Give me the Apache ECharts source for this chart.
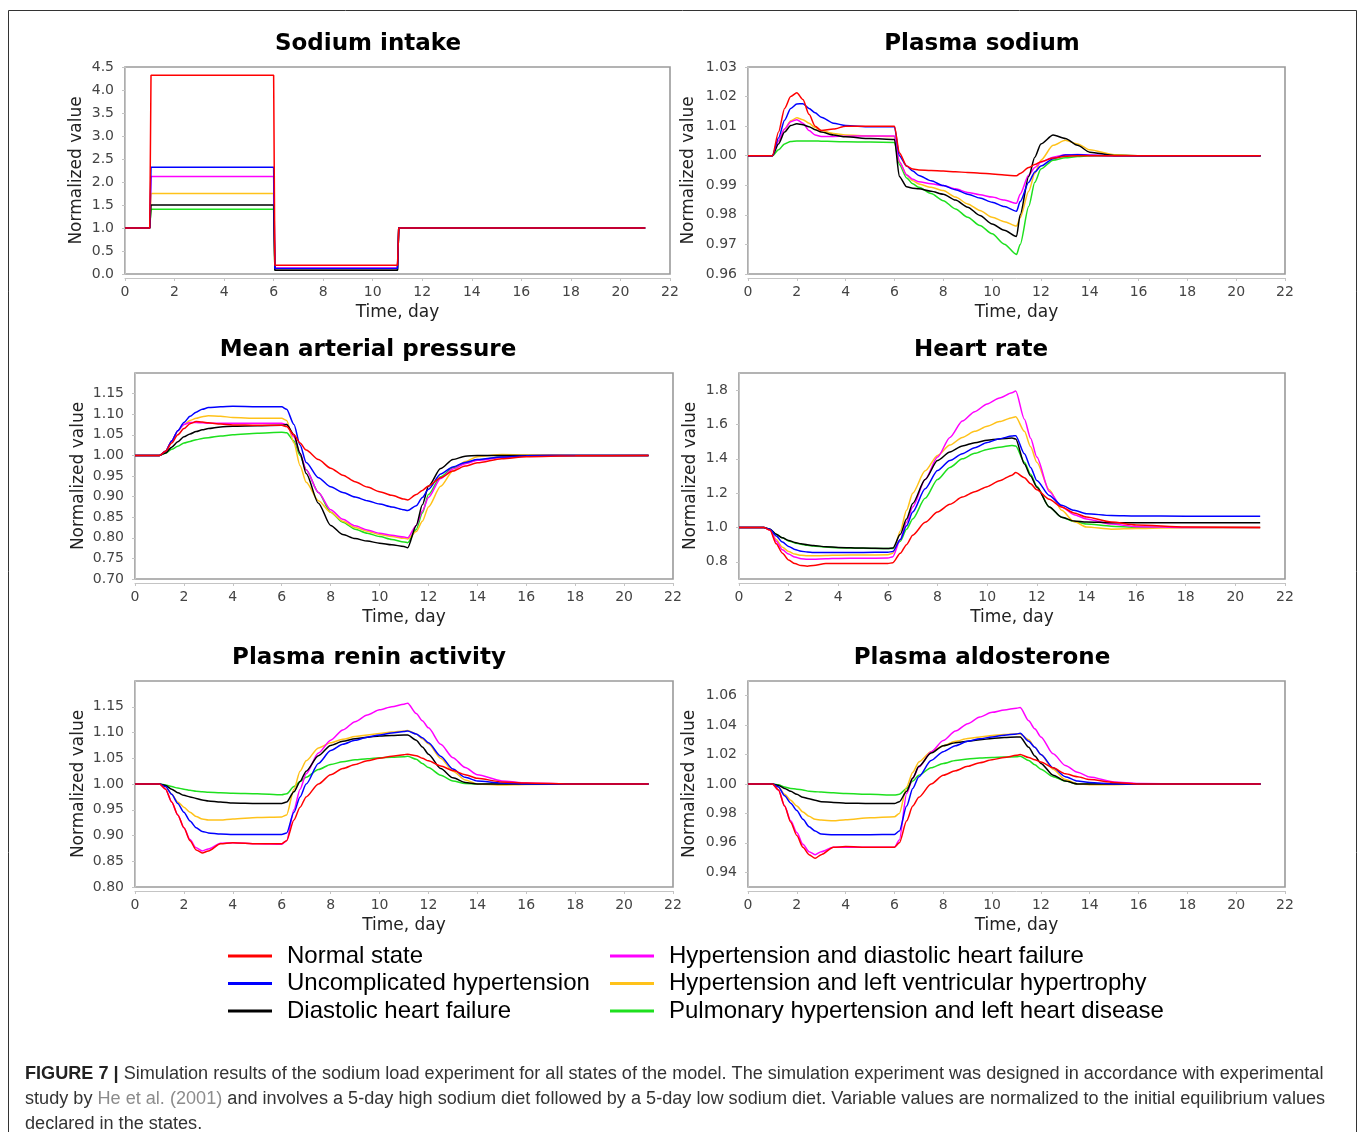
<!DOCTYPE html>
<html><head><meta charset="utf-8">
<script src="https://cdn.jsdelivr.net/npm/echarts@6.0.0/dist/echarts.min.js"></script>
<style>html,body{margin:0;padding:0;background:#fff}#c{width:1358px;height:1132px}</style>
</head><body><div id="c"></div>
<script>
// ---------- DATA ----------
const SERIES_NAMES = ['Normal state','Uncomplicated hypertension','Diastolic heart failure',
  'Hypertension and diastolic heart failure','Hypertension and left ventricular hypertrophy',
  'Pulmonary hypertension and left heart disease'];
const PANEL_TITLES = ['Sodium intake','Plasma sodium','Mean arterial pressure','Heart rate','Plasma renin activity','Plasma aldosterone'];
const X_TICKS = [0,2,4,6,8,10,12,14,16,18,20,22];
const Y_TICKS_SI = [0,0.5,1,1.5,2,2.5,3,3.5,4,4.5];
const Y_TICKS_PS = [0.96,0.97,0.98,0.99,1.00,1.01,1.02,1.03];
const Y_TICKS_MAP = [0.70,0.75,0.80,0.85,0.90,0.95,1.00,1.05,1.10,1.15];
const Y_TICKS_HR = [0.8,1.0,1.2,1.4,1.6,1.8];
const Y_TICKS_RA = [0.80,0.85,0.90,0.95,1.00,1.05,1.10,1.15];
const Y_TICKS_AL = [0.94,0.96,0.98,1.00,1.02,1.04,1.06];

// time, day
const T_STEP = [0,1,1.05,6,6.05,11,11.05,21];
const T = [0,1,1.25,1.5,1.75,2,2.25,2.5,2.75,3,3.5,4,5,6,6.2,6.5,6.75,7,7.5,8,8.5,9,9.5,10,10.5,11,11.15,11.5,11.75,12,12.5,13,13.5,14,15,16,18,21];

// Sodium intake
const SI_RED  = [1,1,4.32,4.32,0.19,0.19,1,1];
const SI_BLUE = [1,1,2.32,2.32,0.12,0.12,1,1];
const SI_BLK  = [1,1,1.50,1.50,0.08,0.08,1,1];
const SI_MAG  = [1,1,2.12,2.12,0.13,0.13,1,1];
const SI_YEL  = [1,1,1.75,1.75,0.10,0.10,1,1];
const SI_GRN  = [1,1,1.41,1.41,0.09,0.09,1,1];

// Plasma sodium
const PS_RED  = [1,1,1.008,1.016,1.020,1.0213,1.019,1.014,1.010,1.0085,1.009,1.0100,1.0100,1.0100,1.001,0.9965,0.9955,0.9952,0.9950,0.9948,0.9946,0.9943,0.9941,0.9938,0.9935,0.9932,0.9940,0.9960,0.9970,0.9980,0.9992,0.9998,1,1,1,1,1,1];
const PS_BLUE = [1,1,1.006,1.012,1.016,1.0175,1.0176,1.016,1.0145,1.013,1.011,1.0102,1.0098,1.0098,1.000,0.9965,0.9948,0.9933,0.9915,0.9899,0.9885,0.9870,0.9857,0.9843,0.9828,0.9812,0.9845,0.9910,0.9945,0.9965,0.9990,1.0002,1.0003,1.0001,1,1,1,1];
const PS_BLK  = [1,1,1.004,1.008,1.0102,1.0108,1.0105,1.0098,1.0088,1.0080,1.0070,1.0064,1.0058,1.0055,0.9930,0.9895,0.9890,0.9888,0.9880,0.9870,0.9850,0.9826,0.9798,0.9769,0.9748,0.9727,0.9800,0.9930,0.9995,1.0040,1.0070,1.0058,1.0035,1.0012,1.0001,1,1,1];
const PS_MAG  = [1,1,1.005,1.009,1.0115,1.0122,1.011,1.0085,1.0070,1.0065,1.0065,1.0066,1.0067,1.0067,0.998,0.9935,0.9920,0.9912,0.9905,0.9899,0.9888,0.9876,0.9868,0.9860,0.9850,0.9839,0.9870,0.9935,0.9960,0.9978,0.9995,1.0003,1.0004,1.0002,1,1,1,1];
const PS_YEL  = [1,1,1.005,1.009,1.0118,1.0128,1.0122,1.011,1.0095,1.0085,1.0075,1.0070,1.0067,1.0065,0.998,0.9935,0.9915,0.9904,0.9893,0.9882,0.9860,0.9837,0.9815,0.9792,0.9777,0.9762,0.9790,0.9880,0.9940,0.9985,1.0035,1.0052,1.0040,1.0020,1.0003,1,1,1];
const PS_GRN  = [1,1,1.002,1.004,1.0048,1.0050,1.0050,1.0050,1.0050,1.0049,1.0048,1.0047,1.0046,1.0045,0.9970,0.9925,0.9905,0.9893,0.9872,0.9848,0.9820,0.9792,0.9764,0.9736,0.9701,0.9666,0.9700,0.9828,0.9910,0.9955,0.9985,0.9993,0.9997,1,1,1,1,1];

// Mean arterial pressure
const MAP_RED  = [1,1,1.01,1.03,1.05,1.065,1.077,1.082,1.081,1.079,1.076,1.074,1.073,1.073,1.070,1.050,1.030,1.013,0.990,0.969,0.952,0.936,0.923,0.912,0.903,0.894,0.892,0.905,0.915,0.926,0.946,0.962,0.974,0.982,0.992,0.997,0.999,1];
const MAP_BLUE = [1,1,1.01,1.035,1.06,1.08,1.095,1.105,1.112,1.116,1.118,1.119,1.118,1.118,1.112,1.075,1.025,0.983,0.946,0.924,0.910,0.899,0.890,0.882,0.875,0.868,0.866,0.878,0.898,0.918,0.955,0.972,0.983,0.990,0.996,0.999,1,1];
const MAP_BLK  = [1,1,1.006,1.02,1.033,1.045,1.052,1.058,1.062,1.065,1.069,1.071,1.072,1.073,1.075,1.05,1.005,0.956,0.884,0.830,0.808,0.798,0.792,0.787,0.783,0.779,0.776,0.83,0.88,0.925,0.968,0.99,0.998,1,1,1,1,1];
const MAP_MAG  = [1,1,1.01,1.035,1.06,1.075,1.080,1.080,1.079,1.078,1.078,1.078,1.078,1.078,1.075,1.045,1.005,0.965,0.91,0.868,0.845,0.829,0.819,0.811,0.806,0.802,0.800,0.83,0.865,0.898,0.944,0.967,0.980,0.988,0.995,0.999,1,1];
const MAP_YEL  = [1,1,1.01,1.035,1.06,1.075,1.085,1.09,1.094,1.096,1.095,1.092,1.090,1.090,1.085,1.03,0.975,0.935,0.89,0.862,0.840,0.825,0.816,0.808,0.803,0.799,0.797,0.815,0.84,0.875,0.925,0.962,0.985,0.997,1.002,1.001,1,1];
const MAP_GRN  = [1,1,1.005,1.015,1.022,1.03,1.034,1.038,1.041,1.043,1.047,1.050,1.054,1.056,1.055,1.035,1.0,0.965,0.91,0.862,0.838,0.821,0.811,0.803,0.796,0.790,0.788,0.82,0.86,0.905,0.948,0.970,0.982,0.989,0.996,0.999,1,1];

// Heart rate
const HR_RED  = [1,1,0.985,0.905,0.85,0.81,0.79,0.778,0.775,0.779,0.79,0.79,0.79,0.79,0.795,0.85,0.90,0.955,1.03,1.09,1.135,1.177,1.208,1.238,1.272,1.305,1.32,1.29,1.255,1.22,1.165,1.119,1.085,1.061,1.032,1.015,1.003,1];
const HR_BLUE = [1,1,0.99,0.95,0.915,0.89,0.872,0.862,0.857,0.855,0.855,0.855,0.855,0.856,0.86,0.93,1.01,1.09,1.226,1.332,1.39,1.43,1.465,1.495,1.517,1.533,1.535,1.43,1.35,1.274,1.187,1.129,1.10,1.08,1.07,1.067,1.066,1.066];
const HR_BLK  = [1,1,0.99,0.96,0.94,0.925,0.913,0.905,0.899,0.895,0.888,0.884,0.88,0.877,0.88,0.96,1.05,1.14,1.28,1.39,1.44,1.475,1.494,1.508,1.516,1.521,1.515,1.37,1.30,1.235,1.12,1.06,1.038,1.032,1.028,1.027,1.027,1.027];
const HR_MAG  = [1,1,0.985,0.92,0.87,0.845,0.828,0.818,0.815,0.815,0.818,0.82,0.821,0.822,0.83,0.93,1.03,1.12,1.28,1.41,1.525,1.62,1.675,1.72,1.755,1.785,1.795,1.63,1.52,1.41,1.21,1.12,1.075,1.05,1.02,1.005,1,1];
const HR_YEL  = [1,1,0.985,0.93,0.885,0.86,0.845,0.838,0.836,0.835,0.837,0.839,0.84,0.841,0.85,0.98,1.10,1.20,1.33,1.42,1.48,1.525,1.56,1.59,1.617,1.64,1.645,1.56,1.47,1.38,1.22,1.10,1.035,1.003,0.99,0.994,1,1];
const HR_GRN  = [1,1,0.99,0.96,0.94,0.922,0.91,0.902,0.896,0.892,0.886,0.882,0.879,0.877,0.878,0.92,0.99,1.05,1.17,1.28,1.35,1.40,1.432,1.455,1.468,1.478,1.475,1.38,1.31,1.24,1.12,1.06,1.035,1.02,1.008,1.002,1,1];

// Plasma renin activity
const RA_RED  = [1,1,0.99,0.965,0.94,0.915,0.89,0.872,0.866,0.870,0.884,0.886,0.884,0.884,0.89,0.93,0.955,0.975,1.0,1.018,1.03,1.038,1.045,1.05,1.054,1.057,1.058,1.055,1.05,1.045,1.035,1.026,1.018,1.011,1.004,1.002,1,1];
const RA_BLUE = [1,1,0.995,0.98,0.962,0.945,0.928,0.915,0.908,0.905,0.903,0.902,0.902,0.902,0.905,0.945,0.975,1.0,1.04,1.065,1.077,1.085,1.091,1.095,1.099,1.102,1.103,1.097,1.09,1.08,1.054,1.029,1.013,1.006,1.002,1,1,1];
const RA_BLK  = [1,1,0.997,0.99,0.983,0.978,0.975,0.972,0.969,0.967,0.965,0.963,0.962,0.962,0.965,0.985,1.005,1.025,1.055,1.075,1.083,1.088,1.091,1.093,1.094,1.095,1.095,1.085,1.072,1.058,1.03,1.012,1.003,1,1,1,1,1];
const RA_MAG  = [1,1,0.99,0.965,0.94,0.915,0.892,0.876,0.870,0.874,0.885,0.886,0.884,0.883,0.89,0.95,0.99,1.02,1.06,1.085,1.105,1.121,1.134,1.144,1.150,1.155,1.157,1.137,1.123,1.109,1.077,1.051,1.032,1.018,1.006,1.002,1,1];
const RA_YEL  = [1,1,0.995,0.98,0.965,0.955,0.945,0.937,0.932,0.930,0.930,0.932,0.935,0.936,0.94,0.99,1.025,1.045,1.07,1.08,1.087,1.092,1.095,1.098,1.101,1.103,1.104,1.097,1.088,1.078,1.05,1.025,1.008,1.0,0.998,0.999,1,1];
const RA_GRN  = [1,1,0.998,0.995,0.992,0.99,0.988,0.986,0.985,0.984,0.983,0.982,0.981,0.979,0.981,0.995,1.005,1.013,1.028,1.038,1.043,1.047,1.049,1.051,1.052,1.053,1.054,1.048,1.04,1.032,1.017,1.006,1.001,1,1,1,1,1];

// Plasma aldosterone
const AL_RED  = [1,1,0.996,0.985,0.974,0.965,0.957,0.952,0.9495,0.952,0.957,0.9575,0.957,0.957,0.96,0.975,0.985,0.991,1.0,1.006,1.009,1.012,1.0145,1.0165,1.018,1.0195,1.020,1.018,1.0165,1.015,1.011,1.007,1.005,1.003,1.001,1,1,1];
const AL_BLUE = [1,1,0.998,0.992,0.987,0.982,0.976,0.971,0.968,0.966,0.9655,0.9655,0.9655,0.9657,0.968,0.985,0.997,1.005,1.016,1.022,1.026,1.029,1.0307,1.032,1.0332,1.034,1.0345,1.029,1.025,1.02,1.011,1.005,1.002,1.001,1,1,1,1];
const AL_BLK  = [1,1,0.999,0.997,0.995,0.993,0.991,0.99,0.989,0.988,0.9875,0.987,0.9867,0.9867,0.988,0.995,1.004,1.012,1.021,1.026,1.028,1.029,1.030,1.031,1.0316,1.032,1.032,1.025,1.019,1.014,1.006,1.002,1,1,1,1,1,1];
const AL_MAG  = [1,1,0.996,0.985,0.975,0.967,0.959,0.954,0.952,0.954,0.957,0.957,0.957,0.957,0.962,0.9935,1.004,1.0115,1.0217,1.0295,1.036,1.041,1.0455,1.0487,1.0503,1.0515,1.052,1.043,1.0375,1.032,1.0205,1.0126,1.008,1.0047,1.0014,1.0003,1,1];
const AL_YEL  = [1,1,0.998,0.993,0.989,0.985,0.981,0.978,0.976,0.9755,0.975,0.9757,0.977,0.9777,0.98,0.998,1.008,1.015,1.022,1.026,1.029,1.031,1.032,1.033,1.0336,1.034,1.034,1.03,1.025,1.02,1.01,1.003,1.0,0.9995,0.9995,1,1,1];
const AL_GRN  = [1,1,0.9995,0.998,0.997,0.9965,0.996,0.995,0.9948,0.9945,0.994,0.9935,0.993,0.9925,0.993,0.997,1.002,1.006,1.011,1.014,1.016,1.017,1.0176,1.018,1.0183,1.0185,1.0188,1.016,1.013,1.01,1.005,1.002,1,1,1,1,1,1];

// ---------- CHART ----------
const COLORS = ['#ff0000','#0000ff','#000000','#ff00ff','#ffc21a','#1ee01e'];
const PANEL_X = [T_STEP, T, T, T, T, T];
const PANEL_SERIES = [
  [SI_RED, SI_BLUE, SI_BLK, SI_MAG, SI_YEL, SI_GRN],
  [PS_RED, PS_BLUE, PS_BLK, PS_MAG, PS_YEL, PS_GRN],
  [MAP_RED, MAP_BLUE, MAP_BLK, MAP_MAG, MAP_YEL, MAP_GRN],
  [HR_RED, HR_BLUE, HR_BLK, HR_MAG, HR_YEL, HR_GRN],
  [RA_RED, RA_BLUE, RA_BLK, RA_MAG, RA_YEL, RA_GRN],
  [AL_RED, AL_BLUE, AL_BLK, AL_MAG, AL_YEL, AL_GRN]
];
const Y_TICKS = [Y_TICKS_SI, Y_TICKS_PS, Y_TICKS_MAP, Y_TICKS_HR, Y_TICKS_RA, Y_TICKS_AL];
const Y_BOUNDS = [[0,4.5],[0.96,1.03],[0.70,1.20],[0.7,1.9],[0.80,1.20],[0.93,1.07]];
const Y_DIGITS = [1,2,2,1,2,2];

const LAYOUT = [
  {left:125, top:67,  width:545, height:207, tx:368, ty:42,  gap:37},
  {left:748, top:67,  width:537, height:207, tx:982, ty:42,  gap:48},
  {left:135, top:373, width:538, height:206, tx:368, ty:348, gap:45},
  {left:739, top:373, width:546, height:206, tx:981, ty:348, gap:37},
  {left:135, top:681, width:538, height:206, tx:369, ty:656, gap:45},
  {left:748, top:681, width:537, height:206, tx:982, ty:656, gap:47}
];
const FONT = 'DejaVu Sans';
const AXIS_C = '#c4c4c4';

const grid = [], xAxis = [], yAxis = [], series = [], graphic = [];
LAYOUT.forEach((L, i) => {
  grid.push({left:L.left, top:L.top, width:L.width, height:L.height, show:true,
    borderColor:'#9a9a9a', borderWidth:1.6, backgroundColor:'#fff', containLabel:false});
  xAxis.push({gridIndex:i, type:'value', min:0, max:22, interval:2, offset:4,
    axisLine:{show:true, onZero:false, lineStyle:{color:AXIS_C, width:1}},
    axisTick:{show:true, length:3, lineStyle:{color:AXIS_C}},
    axisLabel:{fontFamily:FONT, fontSize:14, color:'#444', margin:7},
    splitLine:{show:false},
    name:'Time, day', nameLocation:'middle', nameGap:26,
    nameTextStyle:{fontFamily:FONT, fontSize:17, color:'#222'}});
  const d = Y_DIGITS[i];
  yAxis.push({gridIndex:i, type:'value', min:Y_BOUNDS[i][0], max:Y_BOUNDS[i][1], offset:3,
    axisLine:{show:true, lineStyle:{color:AXIS_C, width:1}},
    axisTick:{show:true, length:3, customValues:Y_TICKS[i], lineStyle:{color:AXIS_C}},
    axisLabel:{customValues:Y_TICKS[i], formatter:v => Number(v).toFixed(d),
      fontFamily:FONT, fontSize:14, color:'#444', margin:8},
    splitLine:{show:false},
    name:'Normalized value', nameLocation:'middle', nameRotate:90, nameGap:L.gap,
    nameTextStyle:{fontFamily:FONT, fontSize:17, color:'#222'}});
  const xs = PANEL_X[i];
  [5,4,3,2,1,0].forEach(k => {
    const ys = PANEL_SERIES[i][k];
    series.push({
      type:'line', name:SERIES_NAMES[k], xAxisIndex:i, yAxisIndex:i,
      data: xs.map((t, j) => [t, ys[j]]),
      showSymbol:false, symbol:'none',
      smooth: i === 0 ? false : 0.25, smoothMonotone: 'x',
      lineStyle:{color:COLORS[k], width:1.5},
      itemStyle:{color:COLORS[k]},
      emphasis:{disabled:true}, silent:true, animation:false, clip:true
    });
  });
  graphic.push({type:'text', x:L.tx, y:L.ty + 2, silent:true,
    style:{text:PANEL_TITLES[i], fill:'#000', fontFamily:FONT, fontWeight:'bold', fontSize:23,
      textAlign:'center', textVerticalAlign:'middle'}});
});

// outer frame
graphic.push({type:'rect', silent:true, z:-1,
  shape:{x:8.5, y:10.5, width:1348, height:1140},
  style:{fill:null, stroke:'#333', lineWidth:1}});

// caption
const CAP_FONT = 'Liberation Sans';
const capRich = {
  b:{fontFamily:CAP_FONT, fontSize:18, fontWeight:'bold', fill:'#222'},
  n:{fontFamily:CAP_FONT, fontSize:18, fill:'#333'},
  g:{fontFamily:CAP_FONT, fontSize:18, fill:'#8c8c8c'}
};
const capLines = [
  '{b|FIGURE 7 |}{n| Simulation results of the sodium load experiment for all states of the model. The simulation experiment was designed in accordance with experimental}',
  '{n|study by }{g|He et al. (2001)}{n| and involves a 5-day high sodium diet followed by a 5-day low sodium diet. Variable values are normalized to the initial equilibrium values}',
  '{n|declared in the states.}'
];
capLines.forEach((s, i) => {
  graphic.push({type:'text', x:25, y:1074 + i*25, silent:true, scaleX:1.006,
    style:{text:s, rich:capRich, fontFamily:CAP_FONT, fontSize:18, fill:'#333',
      textAlign:'left', textVerticalAlign:'middle'}});
});

const ICON = 'path://M0,0H44V3H0Z M53.9,0H54V0.02H53.9Z';
const legendBase = {orient:'vertical', top:944, padding:0, itemGap:3.5,
  itemWidth:54, itemHeight:3, icon:ICON, selectedMode:false,
  itemStyle:{borderWidth:0}, lineStyle:{width:0},
  textStyle:{fontFamily:'Liberation Sans', fontSize:24, color:'#000'}};

const chart = echarts.init(document.getElementById('c'), null, {renderer:'canvas'});
chart.setOption({
  backgroundColor:'#fff',
  animation:false,
  grid, xAxis, yAxis, series, graphic,
  legend:[
    Object.assign({}, legendBase, {left:228, data:SERIES_NAMES.slice(0,3)}),
    Object.assign({}, legendBase, {left:610, data:SERIES_NAMES.slice(3)})
  ]
});
</script></body></html>
